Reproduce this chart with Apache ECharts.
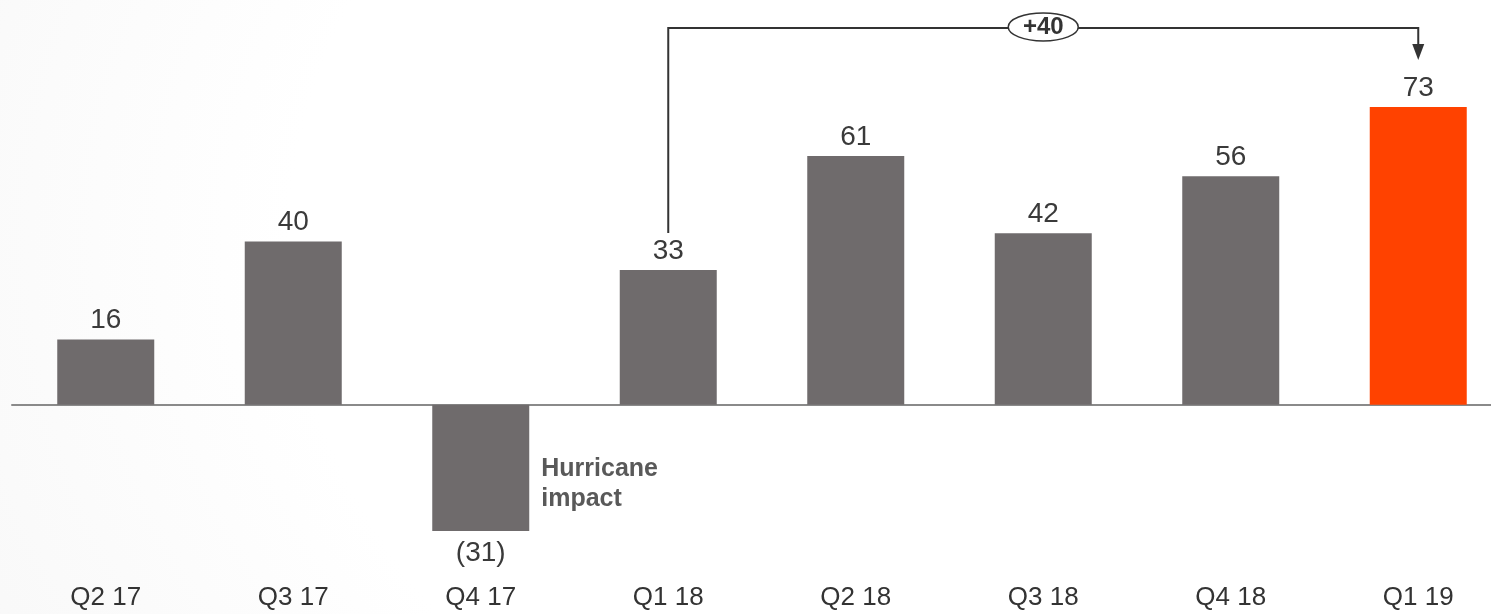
<!DOCTYPE html>
<html>
<head>
<meta charset="utf-8">
<script src="https://cdn.jsdelivr.net/npm/echarts@6/dist/echarts.min.js"></script>
<style>
  html, body { margin: 0; padding: 0; }
  body {
    width: 1491px; height: 614px; overflow: hidden;
    background: radial-gradient(ellipse 130% 200% at 100% 40%, #ffffff 62%, #f9f9f9 82%, #f6f6f6 100%);
  }
  /* plot is a little wider than the window so the last band runs past the right edge */
  #chart { width: 1512px; height: 614px; }
</style>
</head>
<body>
<div id="chart"></div>
<script>
// Quarterly result, with the latest quarter highlighted
const categories = ['Q2 17', 'Q3 17', 'Q4 17', 'Q1 18', 'Q2 18', 'Q3 18', 'Q4 18', 'Q1 19'];
const values = [16, 40, -31, 33, 61, 42, 56, 73];
const highlightIndex = 7;

// Year-on-year bridge drawn above the bars
const bridgeFrom = 3;
const bridgeTo = 7;
const bridgeLabel = '+40';

// Note next to the negative quarter
const noteIndex = 2;
const noteLines = ['Hurricane', 'impact'];

const GREY = '#6f6b6c';
const ORANGE = '#ff4200';
const FONT = '"Liberation Sans", Arial, sans-serif';
const BAR_WIDTH = 97;

const chart = echarts.init(document.getElementById('chart'), null, { renderer: 'canvas' });

chart.setOption({
  backgroundColor: 'transparent',
  animation: false,
  grid: { left: 12, right: 0, top: 5, bottom: 34, containLabel: false },
  xAxis: [
    {
      type: 'category',
      data: categories,
      axisLine: { onZero: true, lineStyle: { color: '#8a8a8a', width: 2 } },
      axisTick: { show: false },
      axisLabel: { show: false }
    },
    {
      type: 'category',
      data: categories,
      position: 'bottom',
      axisLine: { show: false, onZero: false },
      axisTick: { show: false },
      axisLabel: { color: '#333333', fontSize: 26, fontFamily: FONT, margin: 5 }
    }
  ],
  yAxis: {
    type: 'value',
    min: -43,
    max: 98,
    show: false,
    splitLine: { show: false }
  },
  series: [{
    type: 'bar',
    xAxisIndex: 0,
    barWidth: BAR_WIDTH,
    data: values.map((v, i) => ({
      value: v,
      itemStyle: { color: i === highlightIndex ? ORANGE : GREY },
      label: { position: v < 0 ? 'bottom' : 'top', distance: v < 0 ? 8 : 5 }
    })),
    label: {
      show: true,
      color: '#3a3a3a',
      fontSize: 28,
      fontFamily: FONT,
      formatter: p => p.value < 0 ? '(' + Math.abs(p.value) + ')' : String(p.value)
    }
  }]
});

// Bridge bracket and note, placed from the bars' own pixel positions
function drawAnnotations() {
  const a = chart.convertToPixel({ xAxisIndex: 0, yAxisIndex: 0 }, [bridgeFrom, values[bridgeFrom]]);
  const b = chart.convertToPixel({ xAxisIndex: 0, yAxisIndex: 0 }, [bridgeTo, values[bridgeTo]]);
  const topY = Math.min(a[1], b[1]) - 79;
  const startY = a[1] - 37;
  const tipY = b[1] - 47;
  const midX = (a[0] + b[0]) / 2;

  const n = chart.convertToPixel({ xAxisIndex: 0, yAxisIndex: 0 }, [noteIndex, 0]);
  const noteX = n[0] + BAR_WIDTH / 2 + 12;
  const noteY = n[1] + 49;

  chart.setOption({
    graphic: [
      {
        type: 'polyline',
        shape: { points: [[a[0], startY], [a[0], topY], [b[0], topY], [b[0], tipY - 14]] },
        style: { stroke: '#333333', lineWidth: 2, fill: null }
      },
      {
        type: 'polygon',
        shape: { points: [[b[0] - 6, tipY - 16], [b[0] + 6, tipY - 16], [b[0], tipY]] },
        style: { fill: '#333333' }
      },
      {
        type: 'ellipse',
        shape: { cx: midX, cy: topY - 1, rx: 35, ry: 14 },
        style: { fill: '#ffffff', stroke: '#333333', lineWidth: 1.5 }
      },
      {
        type: 'text',
        x: midX,
        y: topY - 1,
        style: {
          text: bridgeLabel,
          fill: '#333333',
          font: 'bold 24px ' + FONT,
          align: 'center',
          verticalAlign: 'middle'
        }
      },
      {
        type: 'text',
        x: noteX,
        y: noteY,
        style: {
          text: noteLines.join('\n'),
          fill: '#595959',
          font: 'bold 25px ' + FONT,
          lineHeight: 30,
          align: 'left',
          verticalAlign: 'top'
        }
      }
    ]
  });
}
drawAnnotations();
</script>
</body>
</html>
